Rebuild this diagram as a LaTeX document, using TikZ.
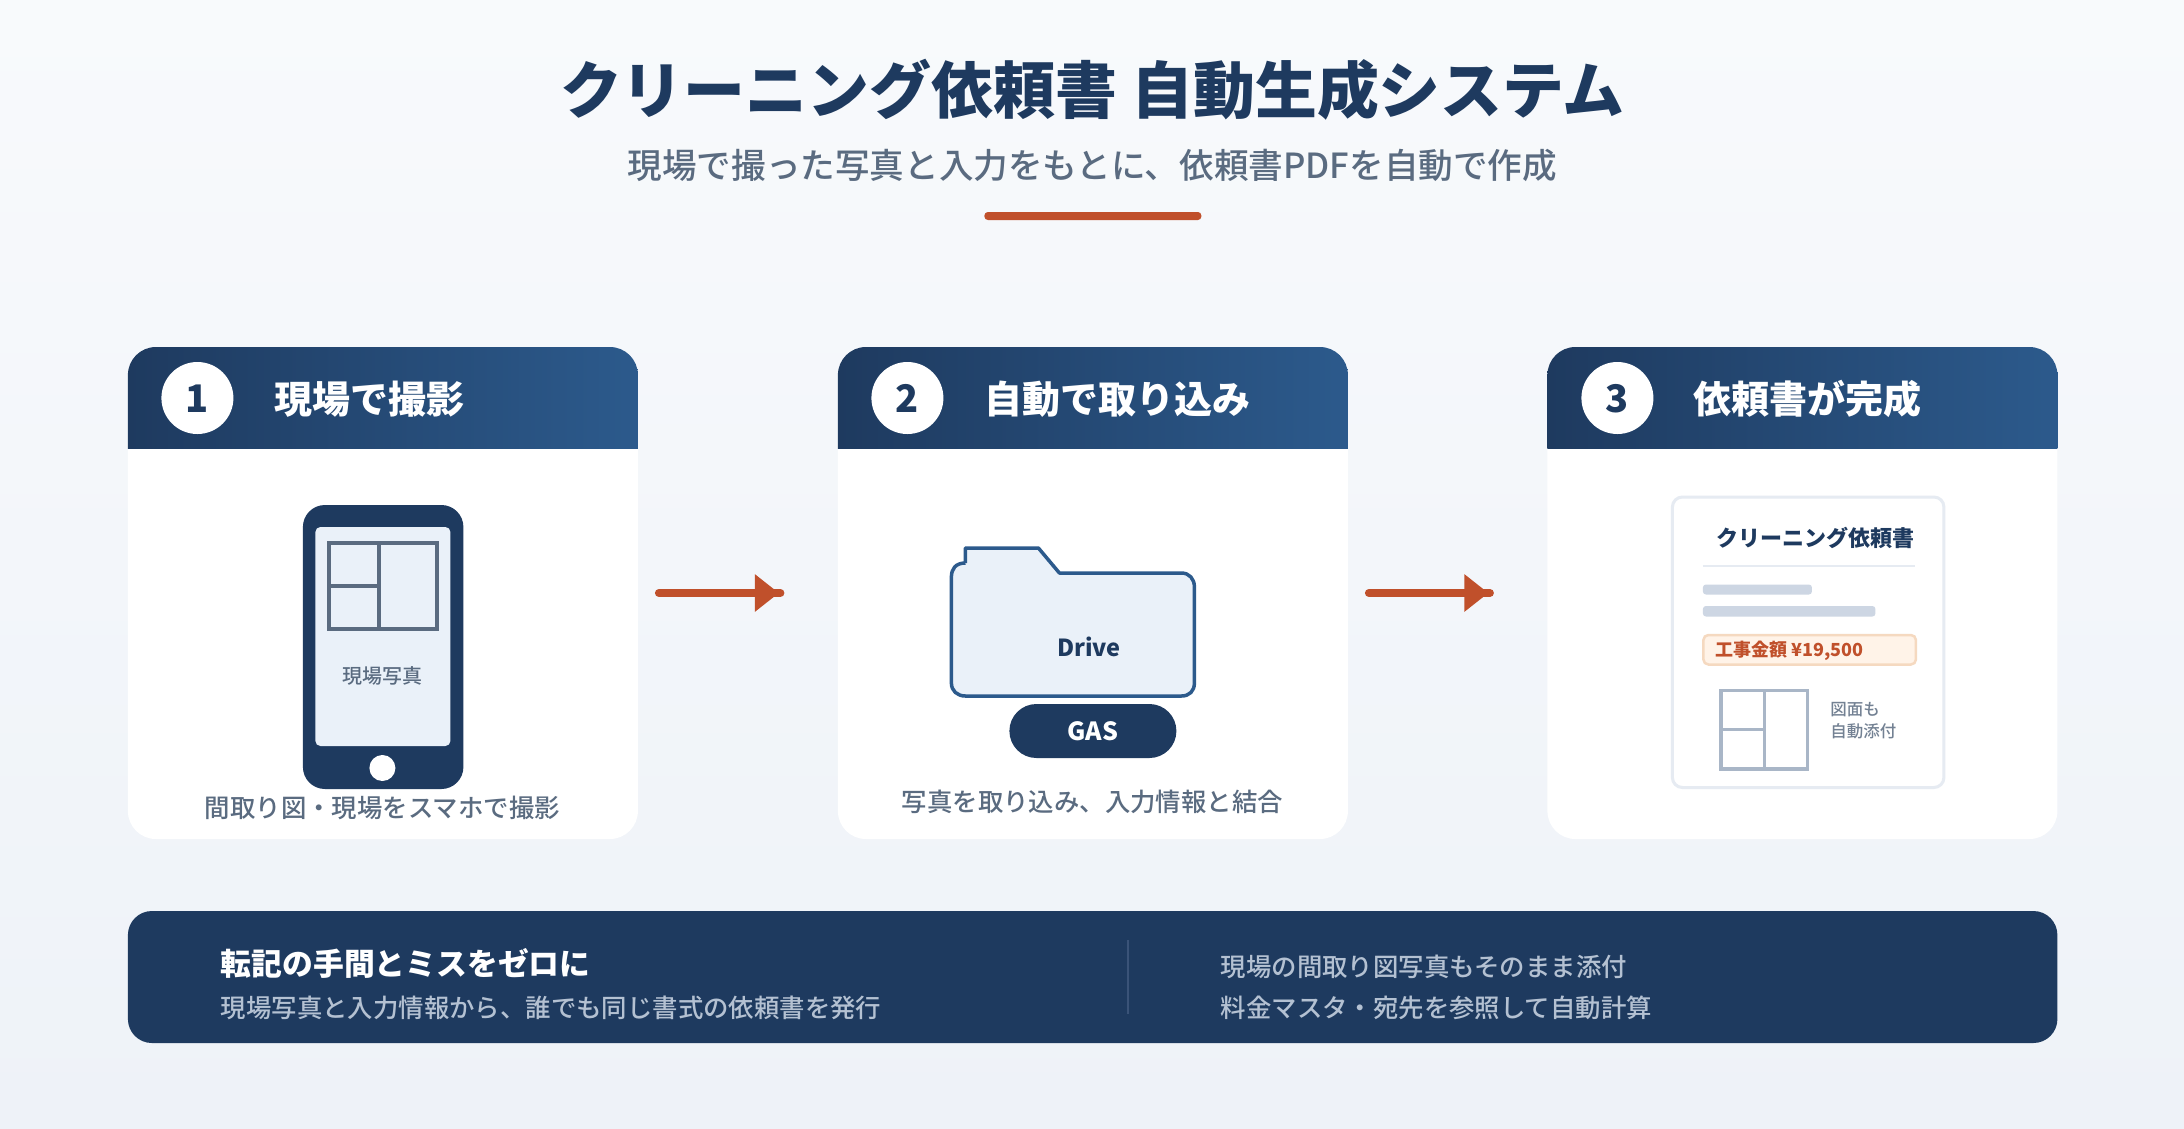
\documentclass[tikz,border=0pt]{standalone}
\usepackage{fontspec}
\usetikzlibrary{arrows.meta}
\setmainfont{Noto Sans CJK JP}
\newfontfamily\medfont{Noto Sans CJK JP Medium}
\definecolor{navy}{HTML}{1E3A5F}
\definecolor{steel}{HTML}{2C5A8C}
\definecolor{rust}{HTML}{C0502B}
\definecolor{slatetxt}{HTML}{5A6B80}
\definecolor{paleblue}{HTML}{EAF1F9}
\definecolor{barcol}{HTML}{CDD6E3}
\definecolor{plancol}{HTML}{A9B6C7}
\definecolor{bandtxt}{HTML}{B4C1D2}
\definecolor{bgtop}{HTML}{F8FAFC}
\definecolor{bgbot}{HTML}{EEF2F8}
\definecolor{docedge}{HTML}{E6EBF2}
\definecolor{priceback}{HTML}{FFF3E8}
\definecolor{priceedge}{HTML}{F5D9C0}
\definecolor{bandrule}{HTML}{3A5378}
\newcommand{\fsz}[1]{\fontsize{#1}{#1}\selectfont}
\tikzset{
  x=1pt,y=-1pt,
  txt/.style={inner sep=0pt,outer sep=0pt,anchor=base},
  txtl/.style={inner sep=0pt,outer sep=0pt,anchor=base west},
  cardbox/.style={rectangle,inner sep=0pt,outer sep=0pt,fill=white,rounded corners=28pt,minimum width=510pt,minimum height=492pt},
  headgrad/.style={left color=navy,right color=steel},
  numdot/.style={circle,inner sep=0pt,outer sep=0pt,fill=white,minimum size=72pt},
  numtxt/.style={txt,text=navy,font=\fsz{38}\bfseries},
  headtxt/.style={txtl,text=white,font=\fsz{38}\bfseries},
  capt/.style={txt,text=slatetxt,font=\fsz{25.4}\medfont},
  flowhead/.style={line width=8pt,rust,-{Triangle[length=24pt,width=36pt]},shorten <=21pt,shorten >=59pt},
  flowstub/.style={line width=8pt,rust,line cap=round,shorten <=21pt,shorten >=57.5pt},
  planline/.style={line width=4pt,slatetxt},
  docplan/.style={line width=3.5pt,plancol},
  band1/.style={txtl,text=white,font=\fsz{30.8}\bfseries},
  band2/.style={txtl,text=bandtxt,font=\fsz{25.4}\medfont},
}
\begin{document}
\begin{tikzpicture}
\useasboundingbox (0,0) rectangle (2184,1128);
\shade[top color=bgtop,bottom color=bgbot] (0,0) rectangle (2184,1128);
\begin{scope}[yshift=-1pt,xshift=0.4pt]
% title block
\node[txt,text=navy,font=\fsz{61.9}\bfseries] (title) at (1092,112.5) {クリーニング依頼書 自動生成システム};
\node[txt,text=slatetxt,font=\fsz{34.6}\medfont] (subtitle) at (1092,177) {現場で撮った写真と入力をもとに、依頼書PDFを自動で作成};
\fill[rust,rounded corners=3.5pt] (984,211) rectangle (1201,219);

% cards
\node[cardbox] (card1) at (382.5,592) {};
\node[cardbox] (card2) at (1092.5,592) {};
\node[cardbox] (card3) at (1802,592) {};
\begin{scope}
\clip[rounded corners=28pt] (127.5,346) rectangle (637.5,838);
\shade[headgrad] (127.5,346) rectangle (637.5,447);
\end{scope}
\begin{scope}
\clip[rounded corners=28pt] (837.5,346) rectangle (1347.5,838);
\shade[headgrad] (837.5,346) rectangle (1347.5,447);
\end{scope}
\begin{scope}
\clip[rounded corners=28pt] (1547,346) rectangle (2057,838);
\shade[headgrad] (1547,346) rectangle (2057,447);
\end{scope}
\node[numdot] (dot1) at (197,397) {};
\node[numdot] (dot2) at (907,397) {};
\node[numdot] (dot3) at (1617,397) {};
\node[numtxt] (num1) at (197,411) {1};
\node[numtxt] (num2) at (907,411) {2};
\node[numtxt] (num3) at (1617,411) {3};
\node[headtxt] (head1) at (274,412) {現場で撮影};
\node[headtxt] (head2) at (984.5,412) {自動で取り込み};
\node[headtxt] (head3) at (1693.5,412) {依頼書が完成};

% connectors
\draw[flowhead] (card1.east) -- (card2.west);
\draw[flowstub] (card1.east) -- (card2.west);
\draw[flowhead] (card2.east) -- (card3.west);
\draw[flowstub] (card2.east) -- (card3.west);

% phone
\fill[navy,rounded corners=22pt] (302.5,504) rectangle (463,788);
\fill[paleblue,rounded corners=5pt] (315,526) rectangle (450,745);
\draw[planline] (329,542) rectangle (437,628);
\draw[planline] (379,542) -- (379,628);
\draw[planline] (329,584.5) -- (379,584.5);
\node[txt,text=slatetxt,font=\fsz{20}\medfont] (phonelabel) at (382,682) {現場写真};
\fill[white] (382,767) circle (13);
\node[capt] (cap1) at (382,816) {間取り図・現場をスマホで撮影};

% folder
\draw[line width=3.5pt,steel,fill=paleblue,line join=round]
  (965,562) -- (965,547) -- (1038,547) -- (1059,572) -- (1181,572)
  .. controls (1189,572) and (1194,578) .. (1194,586)
  -- (1194,682) .. controls (1194,690) and (1189,695) .. (1181,695)
  -- (965,695) .. controls (957,695) and (951,690) .. (951,682)
  -- (951,576) .. controls (951,568) and (955,562) .. (965,562);
\node[txt,text=navy,font=\fsz{23.5}\bfseries] (drive) at (1088.5,655) {Drive};
\node[rectangle,fill=navy,rounded corners=27pt,inner sep=0pt,minimum width=167pt,minimum height=54pt] (gaspill) at (1092.5,730) {};
\node[txt,text=white,font=\fsz{25}\bfseries] (gas) at (1092.5,739) {GAS};
\node[capt] (cap2) at (1092,810) {写真を取り込み、入力情報と結合};

% document
\draw[docedge,line width=3pt,fill=white,rounded corners=10pt] (1672,496) rectangle (1943.5,786.5);
\node[txt,text=navy,font=\fsz{22}\bfseries] (doctitle) at (1815.5,545.5) {クリーニング依頼書};
\draw[line width=2pt,color=docedge] (1702.5,565) -- (1915,565);
\fill[barcol,rounded corners=3pt] (1702.5,583.5) rectangle (1811.5,593.5);
\fill[barcol,rounded corners=3pt] (1702.5,605) rectangle (1875,615.5);
\draw[priceedge,line width=2.5pt,fill=priceback,rounded corners=5pt] (1703,634) rectangle (1915.5,663.5);
\node[txtl,text=rust,font=\fsz{18}\bfseries] (price) at (1715,655) {工事金額 ¥19,500};
\draw[docplan] (1720.5,689.5) rectangle (1807,768);
\draw[docplan] (1764,689.5) -- (1764,768);
\draw[docplan] (1720.5,728.5) -- (1764,728.5);
\node[txtl,text=slatetxt!85!white,font=\fsz{16.5}\medfont] (attach1) at (1830,714) {図面も};
\node[txtl,text=slatetxt!85!white,font=\fsz{16.5}\medfont] (attach2) at (1830,736) {自動添付};

% bottom band
\node[rectangle,fill=navy,rounded corners=24pt,inner sep=0pt,minimum width=1929.5pt,minimum height=132pt] (band) at (1092.25,976) {};
\draw[bandrule,line width=1.5pt] (1127.5,939) -- (1127.5,1012.5);
\node[band1] (bandhead) at (220.5,974) {転記の手間とミスをゼロに};
\node[band2] (bandsub) at (220.5,1016) {現場写真と入力情報から、誰でも同じ書式の依頼書を発行};
\node[band2] (bandr1) at (1220.5,975) {現場の間取り図写真もそのまま添付};
\node[band2] (bandr2) at (1220.5,1016) {料金マスタ・宛先を参照して自動計算};
\end{scope}
\end{tikzpicture}
\end{document}
